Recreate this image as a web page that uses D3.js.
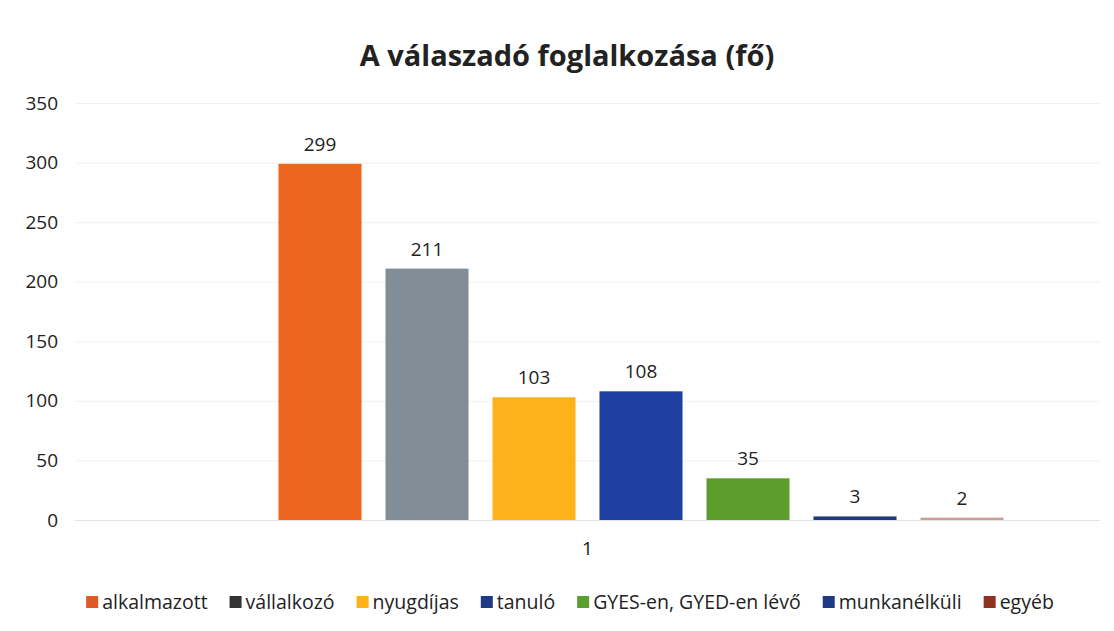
<!DOCTYPE html>
<html>
<head>
<meta charset="utf-8">
<script src="https://cdn.jsdelivr.net/npm/d3@7"></script>
<style>
  body { margin: 0; background: #fff; }
  text { font-family: "Open Sans", "Noto Sans", sans-serif; fill: #222; }
</style>
</head>
<body>
<div id="chart"></div>
<script>
// data
var categories = ["1"];
// first slot is an unnamed, empty series (blank gap left of the bars)
var seriesNames = ["", "alkalmazott", "vállalkozó", "nyugdíjas", "tanuló", "GYES-en, GYED-en lévő", "munkanélküli", "egyéb"];
var seriesValues = [null, 299, 211, 103, 108, 35, 3, 2];
var yTicks = [0, 50, 100, 150, 200, 250, 300, 350];

var barColors = ["none", "#ec661f", "#818e98", "#fdb21c", "#1f3fa3", "#5c9d2b", "#1f3a7c", "#c9a08c"];
var legendColors = ["none", "#e05a28", "#333333", "#fdb21c", "#1f3a85", "#5a9e30", "#1f3a85", "#8b3320"];

var width = 1114, height = 631;
var margin = { left: 75, right: 14, top: 103, bottom: 111 };

var svg = d3.select('#chart')
    .append('svg')
    .attr('width', width)
    .attr('height', height);

var x0 = d3.scaleBand()
    .domain(categories)
    .range([margin.left, width - margin.right])
    .paddingOuter(0.0987);

var x1 = d3.scaleBand()
    .domain(d3.range(seriesNames.length))
    .range([0, x0.bandwidth()])
    .paddingInner(0.224)
    .paddingOuter(0.112);

var y = d3.scaleLinear()
    .domain([0, 350])
    .range([height - margin.bottom, margin.top]);

// title
svg.append("text")
    .attr("x", 567)
    .attr("y", 66)
    .attr("text-anchor", "middle")
    .style("font-size", "29px")
    .style("font-weight", "bold")
    .text("A válaszadó foglalkozása (fő)");

// gridlines
svg.append("g")
    .selectAll("line")
    .data(yTicks)
    .enter()
    .append("line")
    .attr("x1", margin.left)
    .attr("x2", width - margin.right)
    .attr("y1", d => y(d) + 0.5)
    .attr("y2", d => y(d) + 0.5)
    .attr("stroke", d => d == 0 ? "#e4e4e4" : "#f1f1f1")
    .attr("stroke-width", 1);

// y axis labels
var yAxis = d3.axisLeft(y).tickValues(yTicks).tickSize(0).tickPadding(0);
var gY = svg.append("g")
    .attr("transform", "translate(58,0)")
    .call(yAxis);
gY.select(".domain").remove();
gY.selectAll("text")
    .style("font-size", "19px")
    .style("font-family", "'Open Sans', sans-serif")
    .attr("fill", "#222");

// x axis label
var xAxis = d3.axisBottom(x0).tickSize(0).tickPadding(0);
var gX = svg.append("g")
    .attr("transform", "translate(0," + (height - margin.bottom + 21) + ")")
    .call(xAxis);
gX.select(".domain").remove();
gX.selectAll("text")
    .style("font-size", "19px")
    .style("font-family", "'Open Sans', sans-serif")
    .attr("fill", "#222");

// bars
var bars = seriesNames.map(function (name, i) {
    return { name: name, i: i, value: seriesValues[i] };
}).filter(d => d.value != null);

var barg = svg.append("g")
    .attr("transform", "translate(" + x0(categories[0]) + ",0)");

barg.selectAll("rect")
    .data(bars)
    .enter()
    .append("rect")
    .attr("x", d => x1(d.i))
    .attr("width", x1.bandwidth())
    .attr("y", d => Math.min(y(d.value), y(0) - 2))
    .attr("height", d => Math.max(y(0) - y(d.value), 2))
    .attr("fill", d => barColors[d.i]);

barg.selectAll("text.lbl")
    .data(bars)
    .enter()
    .append("text")
    .attr("class", "lbl")
    .attr("x", d => x1(d.i) + x1.bandwidth() / 2)
    .attr("y", d => y(d.value) - 13)
    .attr("text-anchor", "middle")
    .style("font-size", "19px")
    .text(d => d.value);

// legend
var legendItems = bars.filter(d => d.name != "");
var legend = svg.append("g").attr("transform", "translate(0,602)");
var items = legend.selectAll("g")
    .data(legendItems)
    .enter()
    .append("g");
items.append("rect")
    .attr("y", -6)
    .attr("width", 12)
    .attr("height", 12)
    .attr("fill", d => legendColors[d.i]);
items.append("text")
    .attr("x", 16)
    .attr("y", 6.5)
    .style("font-size", "19.5px")
    .text(d => d.name);

var xPos = 0;
var gap = 22;
items.each(function () {
    var w = 16 + this.querySelector("text").getComputedTextLength();
    d3.select(this).attr("transform", "translate(" + xPos + ",0)");
    xPos += w + gap;
});
var total = xPos - gap;
legend.attr("transform", "translate(" + (570 - total / 2) + ",602)");
</script>
</body>
</html>
